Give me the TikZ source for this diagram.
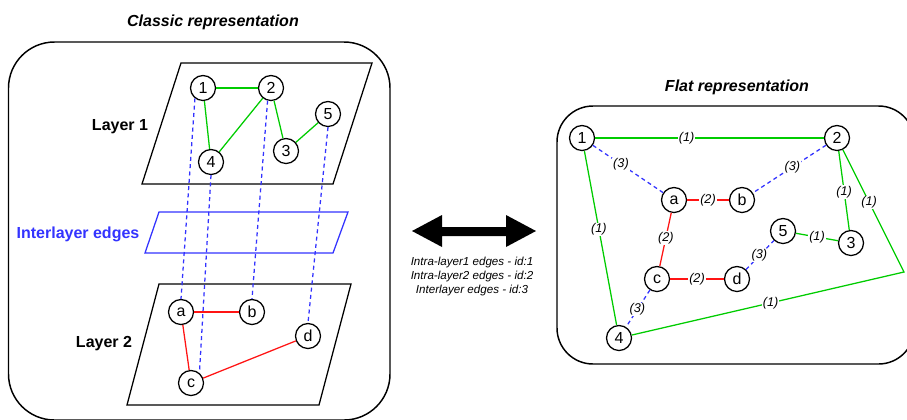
\documentclass[tikz,border=0pt]{standalone}
\usepackage{fontspec}
\setmainfont{Liberation Sans}
\definecolor{ggreen}{RGB}{0,204,0}
\definecolor{rred}{RGB}{255,20,20}
\definecolor{bblue}{RGB}{51,51,255}
\begin{document}
\begin{tikzpicture}[x=0.75pt,y=-0.75pt,
  vtx/.style={circle,draw,line width=0.95pt,minimum size=18.75pt,inner sep=0pt,fill=white,font=\fontsize{12}{12}\selectfont},
  gedge/.style={draw=ggreen,line width=0.95pt},
  redge/.style={draw=rred,line width=0.95pt},
  bedge/.style={draw=bblue,line width=0.95pt,dash pattern=on 3pt off 2.5pt},
  elab/.style={fill=white,inner sep=0.6pt,font=\fontsize{9.5}{10}\selectfont\itshape},
  plane/.style={draw,line width=0.95pt},
  ttl/.style={font=\fontsize{12}{14}\selectfont\bfseries\itshape},
  lyr/.style={font=\fontsize{12}{14}\selectfont\bfseries}]
\useasboundingbox (0,0) rectangle (907,419);
\clip (0,0) rectangle (907,419);

% ---------- left: classic representation ----------
\node[ttl] (tl) at (213,22) {Classic representation};
\draw[line width=1.1pt,rounded corners=34.5pt] (8.5,42) rectangle (390,420);

\draw[plane] (181,63) -- (372,63) -- (333,184) -- (142,184) -- cycle;
\draw[plane,draw=bblue] (159,212) -- (348,212) -- (333,253) -- (145,253) -- cycle;
\draw[plane] (159,284) -- (351,284) -- (319,405) -- (127,405) -- cycle;

\node[lyr] (l1) at (120,127) {Layer 1};
\node[lyr] (l2) at (104,344) {Layer 2};
\node[lyr,text=bblue] (li) at (78,234) {Interlayer edges};

\node[vtx] (n1) at (203,88) {1};
\node[vtx] (n2) at (271,88) {2};
\node[vtx] (n5) at (328,114) {5};
\node[vtx] (n3) at (286,151) {3};
\node[vtx] (n4) at (211,162) {4};
\node[vtx] (na) at (181,312) {a};
\node[vtx] (nb) at (252,312) {b};
\node[vtx] (nd) at (308,336) {d};
\node[vtx] (nc) at (191,383) {c};

\draw[gedge] (n1) -- (n2);
\draw[gedge] (n1) -- (n4);
\draw[gedge] (n2) -- (n4);
\draw[gedge] (n2) -- (n3);
\draw[gedge] (n3) -- (n5);
\draw[redge] (na) -- (nb);
\draw[redge] (na) -- (nc);
\draw[redge] (nc) -- (nd);

\draw[bedge] (n1.232) -- (na.north);
\draw[bedge] (n4.south) -- (nc.50);
\draw[bedge] (n2.255) -- (nb.north);
\draw[bedge] (n5.south) -- (nd.north);

% ---------- middle ----------
\fill (412,231) -- (442,215) -- (442,227) -- (506,227) -- (506,215) -- (536,231)
  -- (506,247) -- (506,236) -- (442,236) -- (442,247) -- cycle;
\node[align=center,font=\fontsize{8.7}{10.5}\selectfont\itshape] (leg) at (472,276)
  {Intra-layer1 edges - id:1\\Intra-layer2 edges - id:2\\Interlayer edges - id:3};

% ---------- right: flat representation ----------
\node[ttl] (tr) at (737,87) {Flat representation};
\draw[line width=1.1pt,rounded corners=27pt] (557,106) rectangle (914.5,364);

\node[vtx] (r1) at (582,138) {1};
\node[vtx] (r2) at (837,138) {2};
\node[vtx] (ra) at (674,200) {a};
\node[vtx] (rb) at (742,200) {b};
\node[vtx] (r5) at (783,231) {5};
\node[vtx] (r3) at (851,243) {3};
\node[vtx] (rc) at (657,279) {c};
\node[vtx] (rd) at (737,279) {d};
\node[vtx] (r4) at (619,338) {4};
\coordinate (corner) at (904,272);

\draw[gedge,line width=1.4pt] (r1) -- node[elab,pos=0.4]{(1)} (r2);
\draw[gedge] (r1) -- node[elab,pos=0.45]{(1)} (r4);
\draw[gedge] (r2) -- node[elab,pos=0.52]{(1)} (r3);
\draw[gedge] (r5) -- node[elab,pos=0.5]{(1)} (r3);
\draw[gedge] (r2) -- node[elab,pos=0.43]{(1)} (corner) -- node[elab,pos=0.49]{(1)} (r4);
\draw[redge] (ra) -- node[elab,pos=0.5]{(2)} (rb);
\draw[redge] (ra) -- node[elab,pos=0.47]{(2)} (rc);
\draw[redge] (rc) -- node[elab,pos=0.5]{(2)} (rd);
\draw[bedge] (r1) -- node[elab,pos=0.4]{(3)} (ra);
\draw[bedge] (r2) -- node[elab,pos=0.46]{(3)} (rb);
\draw[bedge] (rc) -- node[elab,pos=0.53]{(3)} (r4);
\draw[bedge] (rd) -- node[elab,pos=0.48]{(3)} (r5);
\end{tikzpicture}
\end{document}
